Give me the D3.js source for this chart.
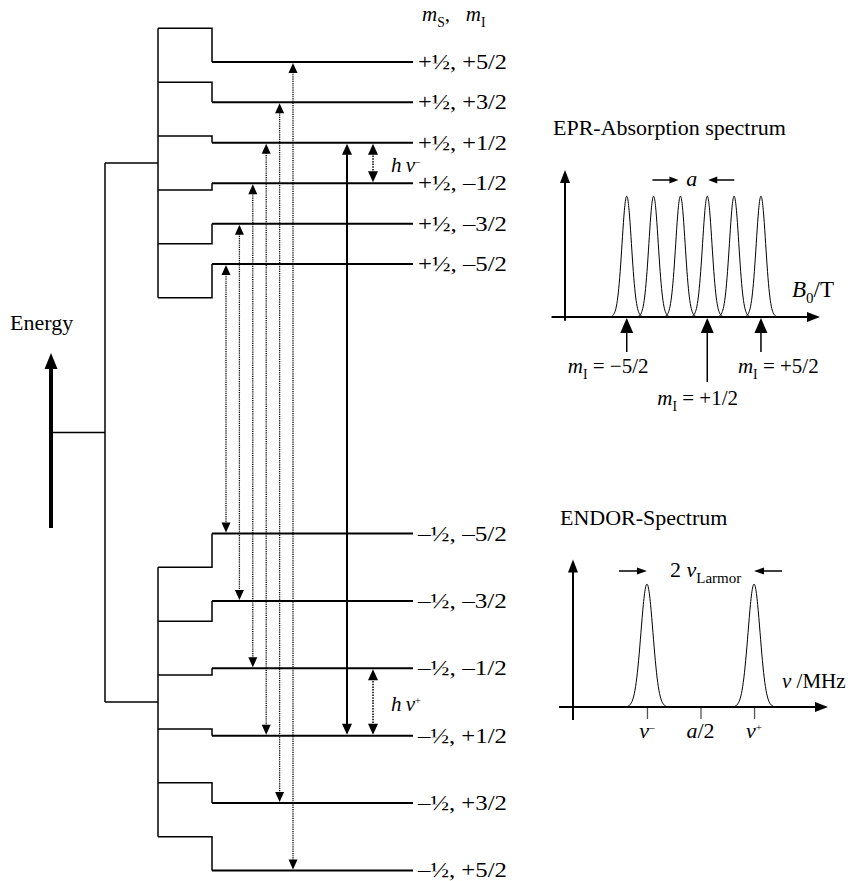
<!DOCTYPE html>
<html>
<head>
<meta charset="utf-8">
<script src="https://cdn.jsdelivr.net/npm/d3@7"></script>
<style>
  body { margin: 0; background: #fff; }
  text { font-family: "Liberation Serif", "Times New Roman", serif; fill: #000; white-space: pre; }
</style>
</head>
<body>
<div id="chart"></div>
<script>
(() => {
  // ---- Data (energies in arbitrary units) ----
  const mI = [2.5, 1.5, 0.5, -0.5, -1.5, -2.5]
  const mILabels = ['+5/2', '+3/2', '+1/2', '–1/2', '–3/2', '–5/2']
  const mSLabels = ['+½', '–½']
  const electronE = [10, -10]
  // hyperfine-only positions (first step) and final levels, same mI order
  const upperBracketE = [15, 13, 11, 9, 7, 5]
  const upperLevelE = [13.75, 12.25, 10.75, 9.25, 7.75, 6.25]
  const lowerBracketE = [-15, -13, -11, -9, -7, -5]
  const lowerLevelE = [-16.25, -13.75, -11.25, -8.75, -6.25, -3.75]

  // EPR absorption spectrum (field units)
  const eprCenters = [2.3, 3.3, 4.3, 5.3, 6.3, 7.3]
  const eprHeights = [1, 1, 1, 1, 1, 1]
  const eprSigma = 0.175
  const eprMarked = [0, 3, 5] // indexes of peaks labelled below the axis
  const eprMarkLabels = ['−5/2', '+1/2', '+5/2']

  // ENDOR spectrum (frequency units)
  const endorCenters = [2.9, 7.1]
  const endorHeights = [1, 1]
  const endorSigma = 0.235
  const endorTicks = [2.9, 5.0, 7.1]

  // ---- Layout ----
  const width = 848
  const height = 881

  const svg = d3.select('#chart')
    .append('svg')
    .attr('width', width)
    .attr('height', height)

  const g = svg.append('g')

  // Energy scale for the level diagram
  const y = d3.scaleLinear().domain([-10, 10]).range([702, 163])
  const col = { axis: 51, outer: 105, bracket: 158, step: 212, end: 413, label: 418 }
  // x position of the EPR transition for each mI
  const xT = d3.scaleLinear().domain([-2.5, 2.5]).range([226, 293])
  const xNMR = 347
  const xHnu = 373

  // filled arrow head, pointing along angle (0 = right, 90 = down)
  function head(sel, x, yy, angle, w, h) {
    sel.append('path')
      .attr('d', `M0,0L${-h},${-w / 2}L${-h},${w / 2}Z`)
      .attr('transform', `translate(${x},${yy}) rotate(${angle})`)
      .attr('fill', '#000')
  }

  // text made of parts: {t, i (italic), sub, sup, size}
  function rich(sel, x, yy, parts, size, anchor) {
    const t = sel.append('text')
      .attr('x', x).attr('y', yy)
      .attr('font-size', size)
      .attr('text-anchor', anchor || 'start')
    let cur = 0
    parts.forEach(p => {
      const shift = p.sub ? size * 0.28 : p.sup ? -size * 0.34 : 0
      const ts = t.append('tspan')
        .attr('dy', shift - cur)
        .text(p.t)
      if (p.i) ts.attr('font-style', 'italic')
      if (p.sub || p.sup) ts.attr('font-size', p.size || size * 0.65)
      cur = shift
    })
    return t
  }

  // ---- Level diagram ----
  // Energy arrow
  g.append('line')
    .attr('x1', col.axis).attr('x2', col.axis)
    .attr('y1', 528).attr('y2', 365)
    .attr('stroke', '#000').attr('stroke-width', 4)
  head(g, col.axis, 353, -90, 13, 16)
  g.append('text')
    .attr('x', 10).attr('y', 330)
    .attr('font-size', 22)
    .text('Energy')

  // link from energy axis to outer bracket
  g.append('line')
    .attr('x1', col.axis).attr('x2', col.outer)
    .attr('y1', y(0)).attr('y2', y(0))
    .attr('stroke', '#000').attr('stroke-width', 1.5)
  g.append('line')
    .attr('x1', col.outer).attr('x2', col.outer)
    .attr('y1', y(electronE[0])).attr('y2', y(electronE[1]))
    .attr('stroke', '#000').attr('stroke-width', 1.5)

  const groups = [
    { e: electronE[0], brackets: upperBracketE, levels: upperLevelE, ms: mSLabels[0] },
    { e: electronE[1], brackets: lowerBracketE, levels: lowerLevelE, ms: mSLabels[1] }
  ]

  groups.forEach(grp => {
    g.append('line')
      .attr('x1', col.outer).attr('x2', col.bracket)
      .attr('y1', y(grp.e)).attr('y2', y(grp.e))
      .attr('stroke', '#000').attr('stroke-width', 1.5)
    g.append('line')
      .attr('x1', col.bracket).attr('x2', col.bracket)
      .attr('y1', y(d3.max(grp.brackets))).attr('y2', y(d3.min(grp.brackets)))
      .attr('stroke', '#000').attr('stroke-width', 1.5)

    grp.brackets.forEach((b, i) => {
      g.append('path')
        .attr('d', `M${col.bracket},${y(b)}H${col.step}V${y(grp.levels[i])}`)
        .attr('fill', 'none')
        .attr('stroke', '#000').attr('stroke-width', 1.5)
      g.append('line')
        .attr('x1', col.step).attr('x2', col.end)
        .attr('y1', y(grp.levels[i])).attr('y2', y(grp.levels[i]))
        .attr('stroke', '#000').attr('stroke-width', 2)
      g.append('text')
        .attr('x', col.label).attr('y', y(grp.levels[i]) + 7)
        .attr('font-size', 22)
        .attr('textLength', 89)
        .attr('lengthAdjust', 'spacingAndGlyphs')
        .text(`${grp.ms}, ${mILabels[i]}`)
    })
  })

  // header
  rich(g, col.label + 4, 21, [
    { t: 'm', i: true }, { t: 'S', sub: true }, { t: ',   ' },
    { t: 'm', i: true }, { t: 'I', sub: true }
  ], 21)

  // EPR transitions (dotted, double headed)
  mI.forEach((m, i) => {
    const x = xT(m)
    const yTop = y(upperLevelE[i]) + 1
    const yBot = y(lowerLevelE[i]) - 1
    g.append('line')
      .attr('x1', x).attr('x2', x)
      .attr('y1', yTop + 9).attr('y2', yBot - 9)
      .attr('stroke', '#000').attr('stroke-width', 1.3)
      .attr('stroke-dasharray', '1.2,1')
    head(g, x, yTop, -90, 9, 10)
    head(g, x, yBot, 90, 9, 10)
  })

  // solid arrow between the two mI = +1/2 levels
  const iHalf = mI.indexOf(0.5)
  const iMinusHalf = mI.indexOf(-0.5)
  g.append('line')
    .attr('x1', xNMR).attr('x2', xNMR)
    .attr('y1', y(upperLevelE[iHalf]) + 9).attr('y2', y(lowerLevelE[iHalf]) - 9)
    .attr('stroke', '#000').attr('stroke-width', 2)
  head(g, xNMR, y(upperLevelE[iHalf]) + 1, -90, 10, 11)
  head(g, xNMR, y(lowerLevelE[iHalf]) - 1, 90, 10, 11)

  // NMR transitions hν− and hν+
  const nmr = [
    { a: y(upperLevelE[iHalf]), b: y(upperLevelE[iMinusHalf]), sup: '–' },
    { a: y(lowerLevelE[iMinusHalf]), b: y(lowerLevelE[iHalf]), sup: '+' }
  ]
  nmr.forEach(n => {
    g.append('line')
      .attr('x1', xHnu).attr('x2', xHnu)
      .attr('y1', n.a + 10).attr('y2', n.b - 10)
      .attr('stroke', '#000').attr('stroke-width', 1.5)
      .attr('stroke-dasharray', '1.5,1.2')
    head(g, xHnu, n.a + 1, -90, 10, 11)
    head(g, xHnu, n.b - 1, 90, 10, 11)
    rich(g, 391, (n.a + n.b) / 2 + 9, [
      { t: 'h\u2009', i: true }, { t: 'ν', i: true }, { t: n.sup, sup: true, size: 10 }
    ], 21)
  })

  // ---- EPR absorption spectrum ----
  const xB = d3.scaleLinear().domain([0, 9.5]).range([565, 820])
  const yA = d3.scaleLinear().domain([0, 1]).range([317, 196])

  g.append('text')
    .attr('x', 553).attr('y', 135)
    .attr('font-size', 22)
    .text('EPR-Absorption spectrum')

  g.append('line')
    .attr('x1', xB(-0.5)).attr('x2', xB(9.5) - 10)
    .attr('y1', yA(0)).attr('y2', yA(0))
    .attr('stroke', '#000').attr('stroke-width', 2)
  head(g, xB(9.5), yA(0), 0, 10, 13)
  g.append('line')
    .attr('x1', xB(0)).attr('x2', xB(0))
    .attr('y1', yA(-0.03)).attr('y2', yA(1.215) + 10)
    .attr('stroke', '#000').attr('stroke-width', 2)
  head(g, xB(0), yA(1.215), -90, 10, 13)

  const peakLine = d3.line()
    .x(d => xB(d[0]))
    .y(d => yA(d[1]))
    .curve(d3.curveBasis)

  eprCenters.forEach((c, i) => {
    const pts = d3.range(-3.8, 3.81, 0.1).map(k => {
      const b = c + k * eprSigma
      return [b, eprHeights[i] * Math.exp(-k * k / 2)]
    })
    g.append('path')
      .datum(pts)
      .attr('fill', 'none')
      .attr('stroke', '#000')
      .attr('stroke-width', 1)
      .attr('d', peakLine)
  })

  // spacing marker "a"
  const aY = 180
  g.append('line').attr('x1', xB(eprCenters[2]) - 28).attr('x2', xB(eprCenters[2]) - 8)
    .attr('y1', aY).attr('y2', aY).attr('stroke', '#000').attr('stroke-width', 1.5)
  head(g, xB(eprCenters[2]) - 2, aY, 0, 7, 9)
  g.append('line').attr('x1', xB(eprCenters[3]) + 8).attr('x2', xB(eprCenters[3]) + 27)
    .attr('y1', aY).attr('y2', aY).attr('stroke', '#000').attr('stroke-width', 1.5)
  head(g, xB(eprCenters[3]) + 1, aY, 180, 7, 9)
  g.append('text')
    .attr('x', (xB(eprCenters[2]) + xB(eprCenters[3])) / 2 - 2).attr('y', aY + 6)
    .attr('font-size', 22).attr('font-style', 'italic')
    .attr('text-anchor', 'middle')
    .text('a')

  rich(g, 792, 297, [
    { t: 'B', i: true }, { t: '0', sub: true }, { t: '/T' }
  ], 23)

  // arrows marking mI peaks
  const labelPos = { '−5/2': [-59, 373], '+1/2': [-50, 405], '+5/2': [-23, 373] }
  eprMarked.forEach((idx, j) => {
    const x = xB(eprCenters[idx])
    const long = eprMarkLabels[j] === '+1/2'
    const tip = yA(0) + 1
    const bottom = long ? 382 : 352
    g.append('line')
      .attr('x1', x).attr('x2', x)
      .attr('y1', tip + 14).attr('y2', bottom)
      .attr('stroke', '#000').attr('stroke-width', 1.5)
    head(g, x, tip, -90, 13, 15)
    const p = labelPos[eprMarkLabels[j]]
    rich(g, x + p[0], p[1], [
      { t: 'm', i: true }, { t: 'I', sub: true }, { t: ' = ' + eprMarkLabels[j] }
    ], 21)
  })

  // ---- ENDOR spectrum ----
  const xN = d3.scaleLinear().domain([0, 10]).range([573, 828])
  const yN = d3.scaleLinear().domain([0, 1]).range([707, 584])

  g.append('text')
    .attr('x', 560).attr('y', 525)
    .attr('font-size', 22)
    .text('ENDOR-Spectrum')

  // tick marks from a d3 axis, labels added below
  g.append('g')
    .attr('transform', `translate(0, ${yN(0)})`)
    .call(d3.axisBottom(xN).tickValues(endorTicks).tickSize(12).tickFormat(''))
    .call(a => a.select('.domain').remove())
    .selectAll('line')
    .attr('stroke', '#555').attr('stroke-width', 1.3)

  g.append('line')
    .attr('x1', xN(-0.55)).attr('x2', xN(10) - 10)
    .attr('y1', yN(0)).attr('y2', yN(0))
    .attr('stroke', '#000').attr('stroke-width', 2)
  head(g, xN(10), yN(0), 0, 10, 13)
  g.append('line')
    .attr('x1', xN(0)).attr('x2', xN(0))
    .attr('y1', yN(-0.106)).attr('y2', yN(1.2) + 10)
    .attr('stroke', '#000').attr('stroke-width', 2)
  head(g, xN(0), yN(1.2), -90, 10, 13)

  const endorLine = d3.line()
    .x(d => xN(d[0]))
    .y(d => yN(d[1]))
    .curve(d3.curveBasis)

  endorCenters.forEach((c, i) => {
    const pts = d3.range(-3.2, 3.21, 0.1).map(k => [c + k * endorSigma, endorHeights[i] * Math.exp(-k * k / 2)])
    g.append('path')
      .datum(pts)
      .attr('fill', 'none')
      .attr('stroke', '#000')
      .attr('stroke-width', 1)
      .attr('d', endorLine)
  })

  const tickY = 738
  rich(g, xN(endorTicks[0]), tickY, [{ t: 'ν', i: true }, { t: '–', sup: true, size: 11 }], 22, 'middle')
  rich(g, xN(endorTicks[1]), tickY, [{ t: 'a', i: true }, { t: '/2' }], 22, 'middle')
  rich(g, xN(endorTicks[2]), tickY, [{ t: 'ν', i: true }, { t: '+', sup: true, size: 11 }], 22, 'middle')

  // 2 ν_Larmor marker
  const lY = 571
  g.append('line').attr('x1', xN(endorCenters[0]) - 28).attr('x2', xN(endorCenters[0]) - 8)
    .attr('y1', lY).attr('y2', lY).attr('stroke', '#000').attr('stroke-width', 1.5)
  head(g, xN(endorCenters[0]), lY, 0, 7, 10)
  g.append('line').attr('x1', xN(endorCenters[1]) + 8).attr('x2', xN(endorCenters[1]) + 28)
    .attr('y1', lY).attr('y2', lY).attr('stroke', '#000').attr('stroke-width', 1.5)
  head(g, xN(endorCenters[1]), lY, 180, 7, 10)
  rich(g, 670, 577, [
    { t: '2' }, { t: ' ν', i: true }, { t: 'Larmor', sub: true, size: 15 }
  ], 22)

  rich(g, 782, 688, [{ t: 'ν', i: true }, { t: ' /MHz' }], 21)
})()
</script>
</body>
</html>
